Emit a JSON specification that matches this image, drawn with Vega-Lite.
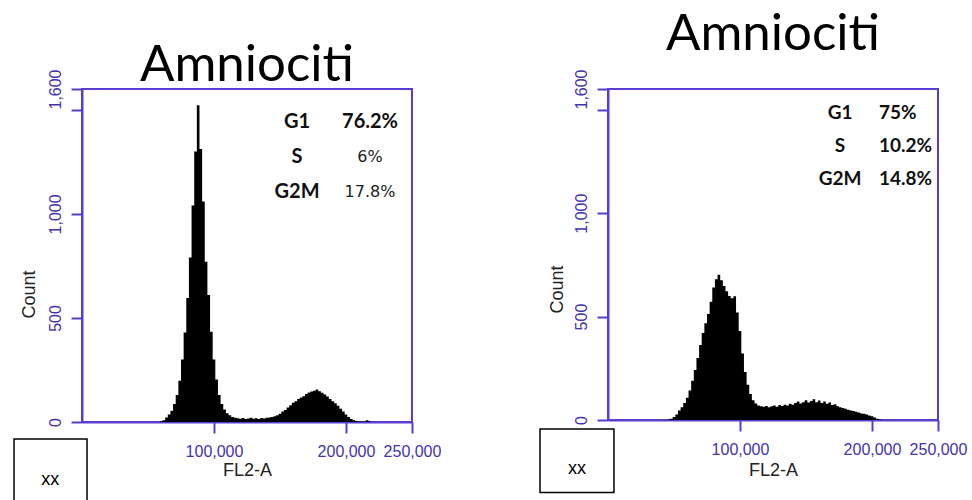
{
  "$schema": "https://vega.github.io/schema/vega-lite/v6.json",
  "background": "white",
  "padding": {"left": 12, "top": 7, "right": 5, "bottom": 0},
  "bounds": "flush",
  "spacing": 196,
  "datasets": {
    "cells_a": [
      {"fl2a": 58000, "count": 0}, {"fl2a": 60000, "count": 4}, {"fl2a": 62000, "count": 8}, {"fl2a": 64000, "count": 22},
      {"fl2a": 66000, "count": 36}, {"fl2a": 68000, "count": 54}, {"fl2a": 70000, "count": 86}, {"fl2a": 72000, "count": 130},
      {"fl2a": 74000, "count": 198}, {"fl2a": 76000, "count": 300}, {"fl2a": 78000, "count": 430}, {"fl2a": 80000, "count": 596},
      {"fl2a": 82000, "count": 790}, {"fl2a": 84000, "count": 1040}, {"fl2a": 86000, "count": 1300}, {"fl2a": 88000, "count": 1522},
      {"fl2a": 90000, "count": 1312}, {"fl2a": 92000, "count": 1060}, {"fl2a": 94000, "count": 770}, {"fl2a": 96000, "count": 610},
      {"fl2a": 98000, "count": 434}, {"fl2a": 100000, "count": 300}, {"fl2a": 102000, "count": 204}, {"fl2a": 104000, "count": 130},
      {"fl2a": 106000, "count": 86}, {"fl2a": 108000, "count": 60}, {"fl2a": 110000, "count": 42}, {"fl2a": 112000, "count": 32},
      {"fl2a": 114000, "count": 24}, {"fl2a": 116000, "count": 21}, {"fl2a": 118000, "count": 18}, {"fl2a": 120000, "count": 16},
      {"fl2a": 122000, "count": 19}, {"fl2a": 124000, "count": 15}, {"fl2a": 126000, "count": 17}, {"fl2a": 128000, "count": 20},
      {"fl2a": 130000, "count": 16}, {"fl2a": 132000, "count": 18}, {"fl2a": 134000, "count": 15}, {"fl2a": 136000, "count": 19},
      {"fl2a": 138000, "count": 17}, {"fl2a": 140000, "count": 20}, {"fl2a": 142000, "count": 22}, {"fl2a": 144000, "count": 24},
      {"fl2a": 146000, "count": 28}, {"fl2a": 148000, "count": 33}, {"fl2a": 150000, "count": 40}, {"fl2a": 152000, "count": 50},
      {"fl2a": 154000, "count": 58}, {"fl2a": 156000, "count": 70}, {"fl2a": 158000, "count": 80}, {"fl2a": 160000, "count": 92},
      {"fl2a": 162000, "count": 100}, {"fl2a": 164000, "count": 110}, {"fl2a": 166000, "count": 118}, {"fl2a": 168000, "count": 124},
      {"fl2a": 170000, "count": 134}, {"fl2a": 172000, "count": 142}, {"fl2a": 174000, "count": 146}, {"fl2a": 176000, "count": 150},
      {"fl2a": 178000, "count": 156}, {"fl2a": 180000, "count": 148}, {"fl2a": 182000, "count": 140}, {"fl2a": 184000, "count": 132},
      {"fl2a": 186000, "count": 122}, {"fl2a": 188000, "count": 110}, {"fl2a": 190000, "count": 100}, {"fl2a": 192000, "count": 90},
      {"fl2a": 194000, "count": 78}, {"fl2a": 196000, "count": 64}, {"fl2a": 198000, "count": 50}, {"fl2a": 200000, "count": 36},
      {"fl2a": 202000, "count": 24}, {"fl2a": 204000, "count": 14}, {"fl2a": 206000, "count": 8}, {"fl2a": 208000, "count": 5},
      {"fl2a": 210000, "count": 3}, {"fl2a": 212000, "count": 2}, {"fl2a": 214000, "count": 2}, {"fl2a": 216000, "count": 9},
      {"fl2a": 218000, "count": 2}, {"fl2a": 220000, "count": 0}
    ],
    "cells_b": [
      {"fl2a": 44000, "count": 0}, {"fl2a": 46000, "count": 2}, {"fl2a": 48000, "count": 6}, {"fl2a": 50000, "count": 14},
      {"fl2a": 52000, "count": 26}, {"fl2a": 54000, "count": 46}, {"fl2a": 56000, "count": 62}, {"fl2a": 58000, "count": 82},
      {"fl2a": 60000, "count": 108}, {"fl2a": 62000, "count": 142}, {"fl2a": 64000, "count": 190}, {"fl2a": 66000, "count": 242},
      {"fl2a": 68000, "count": 300}, {"fl2a": 70000, "count": 362}, {"fl2a": 72000, "count": 420}, {"fl2a": 74000, "count": 468},
      {"fl2a": 76000, "count": 512}, {"fl2a": 78000, "count": 572}, {"fl2a": 80000, "count": 640}, {"fl2a": 82000, "count": 680},
      {"fl2a": 84000, "count": 702}, {"fl2a": 86000, "count": 676}, {"fl2a": 88000, "count": 648}, {"fl2a": 90000, "count": 622},
      {"fl2a": 92000, "count": 600}, {"fl2a": 94000, "count": 588}, {"fl2a": 96000, "count": 598}, {"fl2a": 98000, "count": 520},
      {"fl2a": 100000, "count": 430}, {"fl2a": 102000, "count": 322}, {"fl2a": 104000, "count": 232}, {"fl2a": 106000, "count": 170},
      {"fl2a": 108000, "count": 126}, {"fl2a": 110000, "count": 96}, {"fl2a": 112000, "count": 80}, {"fl2a": 114000, "count": 70},
      {"fl2a": 116000, "count": 66}, {"fl2a": 118000, "count": 64}, {"fl2a": 120000, "count": 68}, {"fl2a": 122000, "count": 62},
      {"fl2a": 124000, "count": 66}, {"fl2a": 126000, "count": 70}, {"fl2a": 128000, "count": 64}, {"fl2a": 130000, "count": 72},
      {"fl2a": 132000, "count": 68}, {"fl2a": 134000, "count": 74}, {"fl2a": 136000, "count": 70}, {"fl2a": 138000, "count": 78},
      {"fl2a": 140000, "count": 74}, {"fl2a": 142000, "count": 82}, {"fl2a": 144000, "count": 90}, {"fl2a": 146000, "count": 80},
      {"fl2a": 148000, "count": 86}, {"fl2a": 150000, "count": 96}, {"fl2a": 152000, "count": 84}, {"fl2a": 154000, "count": 92},
      {"fl2a": 156000, "count": 100}, {"fl2a": 158000, "count": 86}, {"fl2a": 160000, "count": 94}, {"fl2a": 162000, "count": 82},
      {"fl2a": 164000, "count": 90}, {"fl2a": 166000, "count": 78}, {"fl2a": 168000, "count": 84}, {"fl2a": 170000, "count": 72},
      {"fl2a": 172000, "count": 76}, {"fl2a": 174000, "count": 66}, {"fl2a": 176000, "count": 62}, {"fl2a": 178000, "count": 58},
      {"fl2a": 180000, "count": 54}, {"fl2a": 182000, "count": 50}, {"fl2a": 184000, "count": 46}, {"fl2a": 186000, "count": 44},
      {"fl2a": 188000, "count": 40}, {"fl2a": 190000, "count": 36}, {"fl2a": 192000, "count": 32}, {"fl2a": 194000, "count": 30},
      {"fl2a": 196000, "count": 26}, {"fl2a": 198000, "count": 22}, {"fl2a": 200000, "count": 18}, {"fl2a": 202000, "count": 12},
      {"fl2a": 204000, "count": 6}, {"fl2a": 206000, "count": 2}, {"fl2a": 208000, "count": 0}
    ],
    "phases_a": [
      {"phase": "G1", "pct": "76.2%"},
      {"phase": "S", "pct": "6%"},
      {"phase": "G2M", "pct": "17.8%"}
    ],
    "phases_b": [
      {"phase": "G1", "pct": "75%"},
      {"phase": "S", "pct": "10.2%"},
      {"phase": "G2M", "pct": "14.8%"}
    ],
    "tag": [{"label": "xx"}]
  },
  "config": {
    "view": {"stroke": "#5a3dd0", "strokeWidth": 2},
    "axis": {
      "grid": false,
      "domainColor": "#5a3dd0", "domainWidth": 2,
      "tickColor": "#5a3dd0", "tickWidth": 2, "tickSize": 11,
      "labelColor": "#4433b0", "labelFont": "Liberation Sans", "labelFontSize": 16,
      "titleFont": "Liberation Sans", "titleFontSize": 18, "titleFontWeight": "normal", "titleColor": "#222222"
    }
  },
  "hconcat": [
    {
      "width": 330,
      "height": 333,
      "title": {"text": "Amniociti", "font": "Lato", "fontSize": 51, "fontWeight": "normal", "color": "#000000", "baseline": "alphabetic", "frame": "group", "anchor": "middle", "offset": -63},
      "layer": [
        {
          "layer": [
            {
              "data": {"name": "cells_a"},
              "mark": {"type": "area", "interpolate": "step", "color": "#000000"},
              "encoding": {
                "x": {"field": "fl2a", "type": "quantitative", "scale": {"domain": [0, 250000], "nice": false},
                  "axis": {"values": [100000, 200000, 250000], "labelExpr": "format(datum.value, ',')", "labelFontSize": 16, "labelFlush": false, "labelOverlap": false, "labelPadding": 10,
                    "title": "FL2-A", "titleY": 48, "titleBaseline": "middle"}},
                "y": {"field": "count", "type": "quantitative", "scale": {"domain": [0, 1600], "nice": false},
                  "axis": {"values": [0, 500, 1000, 1500, 1600], "labelExpr": "datum.value === 1500 ? '' : format(datum.value, ',')",
                    "labelAngle": -90, "labelPadding": 8, "labelFontSize": 16,
                    "title": "Count", "titleX": -53, "titleY": 205, "titleAngle": -90, "titleAlign": "center", "titleBaseline": "middle"}}
              }
            },
            {
              "data": {"name": "tag"},
              "mark": {"type": "rect", "fill": "white", "stroke": "black", "strokeWidth": 1.5},
              "encoding": {
                "x": {"datum": -51500, "type": "quantitative"}, "x2": {"datum": 3800},
                "y": {"datum": -82, "type": "quantitative"}, "y2": {"datum": -390}
              }
            },
            {
              "data": {"name": "tag"},
              "mark": {"type": "text", "font": "Liberation Sans", "fontSize": 18, "color": "black"},
              "encoding": {
                "x": {"datum": -24000, "type": "quantitative"},
                "y": {"datum": -280, "type": "quantitative"},
                "text": {"field": "label"}
              }
            }
          ]
        },
        {
          "data": {"name": "phases_a"},
          "encoding": {
            "y": {"field": "phase", "type": "ordinal", "scale": {"type": "point", "domain": ["G1", "S", "G2M"], "range": [33, 103], "padding": 0}, "axis": null}
          },
          "layer": [
            {
              "mark": {"type": "text", "font": "Lato", "fontWeight": "bold", "fontSize": 20, "baseline": "middle", "align": "center", "color": "#111111"},
              "encoding": {"x": {"datum": 162900, "type": "quantitative"}, "text": {"field": "phase"}}
            },
            {
              "transform": [{"filter": "datum.phase === 'G1'"}],
              "mark": {"type": "text", "font": "Lato", "fontWeight": "bold", "fontSize": 20, "baseline": "middle", "align": "center", "color": "#111111"},
              "encoding": {"x": {"datum": 218200, "type": "quantitative"}, "text": {"field": "pct"}}
            },
            {
              "transform": [{"filter": "datum.phase !== 'G1'"}],
              "mark": {"type": "text", "font": "DejaVu Sans", "fontSize": 16, "baseline": "middle", "align": "center", "color": "#222222"},
              "encoding": {"x": {"datum": 218200, "type": "quantitative"}, "text": {"field": "pct"}}
            }
          ]
        }
      ],
      "resolve": {"scale": {"y": "independent"}}
    },
    {
      "width": 330,
      "height": 331,
      "title": {"text": "Amniociti", "font": "Lato", "fontSize": 51, "fontWeight": "normal", "color": "#000000", "baseline": "alphabetic", "frame": "group", "anchor": "middle", "offset": -32},
      "layer": [
        {
          "layer": [
            {
              "data": {"name": "cells_b"},
              "mark": {"type": "area", "interpolate": "step", "color": "#000000"},
              "encoding": {
                "x": {"field": "fl2a", "type": "quantitative", "scale": {"domain": [0, 250000], "nice": false},
                  "axis": {"values": [100000, 200000, 250000], "labelExpr": "format(datum.value, ',')", "labelFontSize": 16, "labelFlush": false, "labelOverlap": false, "labelPadding": 10,
                    "title": "FL2-A", "titleY": 50, "titleBaseline": "middle"}},
                "y": {"field": "count", "type": "quantitative", "scale": {"domain": [0, 1600], "nice": false},
                  "axis": {"values": [0, 500, 1000, 1500, 1600], "labelExpr": "datum.value === 1500 ? '' : format(datum.value, ',')",
                    "labelAngle": -90, "labelPadding": 8, "labelFontSize": 16,
                    "title": "Count", "titleX": -51, "titleY": 200, "titleAngle": -90, "titleAlign": "center", "titleBaseline": "middle"}}
              }
            },
            {
              "data": {"name": "tag"},
              "mark": {"type": "rect", "fill": "white", "stroke": "black", "strokeWidth": 1.5},
              "encoding": {
                "x": {"datum": -51500, "type": "quantitative"}, "x2": {"datum": 4500},
                "y": {"datum": -43, "type": "quantitative"}, "y2": {"datum": -351}
              }
            },
            {
              "data": {"name": "tag"},
              "mark": {"type": "text", "font": "Liberation Sans", "fontSize": 18, "color": "black"},
              "encoding": {
                "x": {"datum": -23500, "type": "quantitative"},
                "y": {"datum": -236, "type": "quantitative"},
                "text": {"field": "label"}
              }
            }
          ]
        },
        {
          "data": {"name": "phases_b"},
          "encoding": {
            "y": {"field": "phase", "type": "ordinal", "scale": {"type": "point", "domain": ["G1", "S", "G2M"], "range": [24, 90], "padding": 0}, "axis": null}
          },
          "layer": [
            {
              "mark": {"type": "text", "font": "Lato", "fontWeight": "bold", "fontSize": 19, "baseline": "middle", "align": "center", "color": "#111111"},
              "encoding": {"x": {"datum": 175800, "type": "quantitative"}, "text": {"field": "phase"}}
            },
            {
              "mark": {"type": "text", "font": "Lato", "fontWeight": "bold", "fontSize": 19, "baseline": "middle", "align": "left", "color": "#111111"},
              "encoding": {"x": {"datum": 205300, "type": "quantitative"}, "text": {"field": "pct"}}
            }
          ]
        }
      ],
      "resolve": {"scale": {"y": "independent"}}
    }
  ]
}
